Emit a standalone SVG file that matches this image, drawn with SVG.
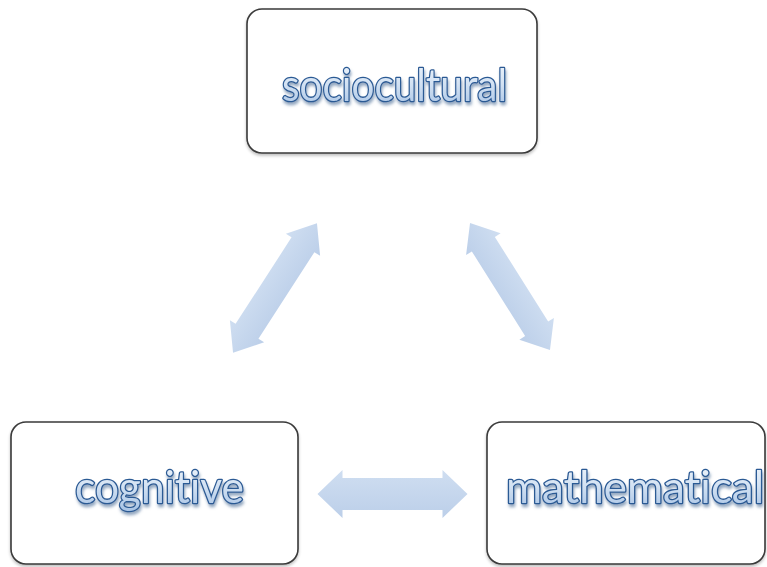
<svg xmlns="http://www.w3.org/2000/svg" width="767" height="567" viewBox="0 0 767 567">
  <defs>
    <linearGradient id="txtFill" x1="0" y1="0" x2="0" y2="1">
      <stop offset="0" stop-color="#f2f7fc"/>
      <stop offset="0.5" stop-color="#d3e2f3"/>
      <stop offset="1" stop-color="#a6c2e4"/>
    </linearGradient>
    <linearGradient id="arrowFill" x1="0" y1="0" x2="0" y2="1">
      <stop offset="0" stop-color="#cfdef1"/>
      <stop offset="1" stop-color="#bccfe9"/>
    </linearGradient>
    <filter id="txtShadow" x="-10%" y="-30%" width="120%" height="170%">
      <feGaussianBlur in="SourceAlpha" stdDeviation="1.8" result="b"/>
      <feOffset in="b" dx="1" dy="2.5" result="o"/>
      <feFlood flood-color="#4d6f98" flood-opacity="0.6"/>
      <feComposite in2="o" operator="in" result="s"/>
      <feMerge><feMergeNode in="s"/><feMergeNode in="SourceGraphic"/></feMerge>
    </filter>
    <filter id="boxShadow" x="-5%" y="-5%" width="110%" height="112%">
      <feGaussianBlur in="SourceAlpha" stdDeviation="1.5" result="b"/>
      <feOffset in="b" dx="0" dy="1.5" result="o"/>
      <feFlood flood-color="#000" flood-opacity="0.25"/>
      <feComposite in2="o" operator="in" result="s"/>
      <feMerge><feMergeNode in="s"/><feMergeNode in="SourceGraphic"/></feMerge>
    </filter>
    <!-- double-headed arrow, drawn along the x axis, centred on the origin -->
    <path id="dblArrow" d="M-75,0 L-50,-24 L-50,-16 L50,-16 L50,-24 L75,0 L50,24 L50,16 L-50,16 L-50,24 Z"/>
  </defs>
  <style>
    .box { fill: #ffffff; stroke: #3a3a3a; stroke-width: 1.6; filter: url(#boxShadow); }
    .label { font-family: Lato, "Open Sans", "Liberation Sans", sans-serif; font-size: 44px; font-weight: 400;
             font-variant-ligatures: none;
             fill: url(#txtFill); stroke: #2c5a94; stroke-width: 2.6; paint-order: stroke fill;
             stroke-linejoin: round; text-anchor: middle; filter: url(#txtShadow); }
    .arrow { fill: url(#arrowFill); }
  </style>
  <rect width="767" height="567" fill="#ffffff"/>

  <g id="connectors">
    <!-- cognitive <-> mathematical -->
    <use href="#dblArrow" class="arrow" transform="translate(392.5,494)"/>
    <!-- cognitive <-> sociocultural -->
    <use href="#dblArrow" class="arrow" transform="translate(275,288) rotate(-57.1) scale(1.03,0.85)"/>
    <!-- sociocultural <-> mathematical -->
    <use href="#dblArrow" class="arrow" transform="translate(510,286.5) rotate(57.8) scale(1.0,0.85)"/>
  </g>

  <g id="sociocultural">
    <rect class="box" x="247" y="9" width="290" height="144" rx="15"/>
    <text class="label" x="394.5" y="101" textLength="225" lengthAdjust="spacingAndGlyphs">sociocultural</text>
  </g>

  <g id="cognitive">
    <rect class="box" x="11" y="422" width="287" height="142" rx="15"/>
    <text class="label" x="159.5" y="503" textLength="169" lengthAdjust="spacingAndGlyphs">cognitive</text>
  </g>

  <g id="mathematical">
    <rect class="box" x="487" y="422" width="278" height="142" rx="15"/>
    <text class="label" x="635" y="503" textLength="258" lengthAdjust="spacingAndGlyphs">mathematical</text>
  </g>
</svg>
